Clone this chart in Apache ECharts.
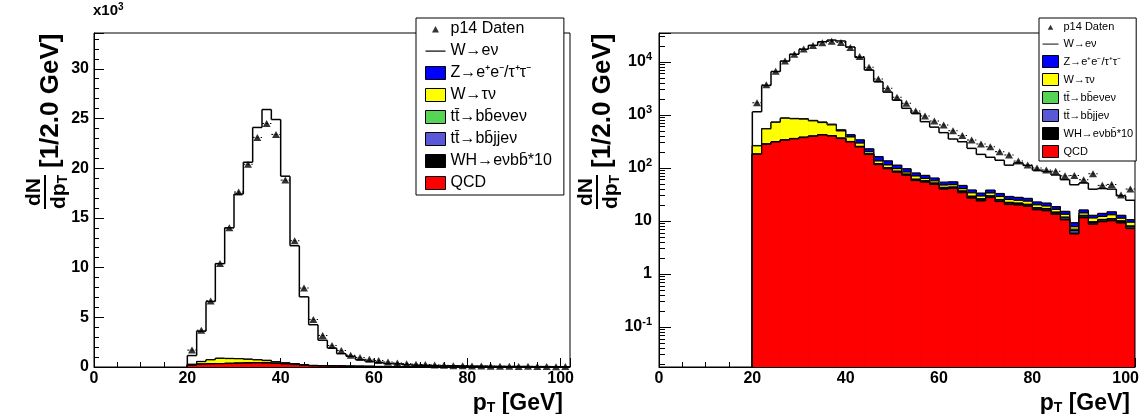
<!DOCTYPE html>
<html>
<head>
<meta charset="utf-8">
<script src="https://cdn.jsdelivr.net/npm/echarts@6/dist/echarts.min.js"></script>
<style>html,body{margin:0;padding:0;background:#fff}#c{width:1144px;height:414px}</style>
</head>
<body>
<div id="c"></div>
<script>
// ---------------- data (bins of 2 GeV, 20..102 GeV) ----------------
const binCenters = [21,23,25,27,29,31,33,35,37,39,41,43,45,47,49,51,53,55,57,59,61,63,65,67,69,71,73,75,77,79,81,83,85,87,89,91,93,95,97,99,101];
const BIN_HALF = 1;
const xTicks = [0,20,40,60,80,100];

const dataP14 = [1700,3700,6650,10400,14000,17600,20400,23100,24500,23400,18800,12700,7940,4780,3180,2160,1660,1190,960,770,650,505,408,337,284,252,203,176,135,114,100,92,87,71,72,60,78,47,49,31,40];
const wenu    = [885,3050,5860,9520,13140,16550,19810,23360,25230,24370,18770,11860,6830,4090,2560,1790,1240,1000,675,525,410,297,266,196,147,121,107,84,97,85,68,64,55,45,39,36,27,27,25,17,14];
const zll     = [3,5,7,9,10,12,14,17,20,25,40,45,27,28,22,16,13,10,9,7.5,6.5,6.5,6,4.5,4,4.5,4,3.5,3.3,3,2.7,2.6,2.1,1.8,1.5,2,1.4,1.7,1.8,1.5,1.1];
const wtaunu  = [79,265,415,530,490,455,375,295,245,135,70,40,18,15,13,10,7,9,6,5,4.5,4.5,3.8,4.5,3.3,3.8,3.6,3,2.7,3,2.3,2,1.8,1.5,0.8,1.4,1.7,1.5,2,1.2,1.4];
const ttll    = [0.6,0.9,1.1,1.3,1.4,1.5,1.5,1.6,1.6,1.5,1.5,1.4,1.4,1.3,1.2,1.2,1.1,1.0,1.0,0.9,0.9,0.8,0.8,0.7,0.7,0.7,0.6,0.6,0.6,0.5,0.5,0.5,0.4,0.4,0.4,0.4,0.3,0.3,0.3,0.3,0.3];
const ttlj    = [1.2,1.8,2.3,2.7,3.0,3.2,3.4,3.5,3.5,3.4,3.3,3.1,3.0,2.8,2.6,2.5,2.3,2.2,2.0,1.9,1.8,1.7,1.6,1.5,1.4,1.3,1.2,1.1,1.1,1.0,0.9,0.9,0.8,0.8,0.7,0.7,0.6,0.6,0.6,0.5,0.5];
const whx10   = [0.3,0.5,0.6,0.7,0.8,0.8,0.9,0.9,0.9,0.9,0.8,0.8,0.7,0.7,0.6,0.6,0.5,0.5,0.5,0.4,0.4,0.4,0.4,0.3,0.3,0.3,0.3,0.3,0.2,0.2,0.2,0.2,0.2,0.2,0.2,0.2,0.1,0.1,0.1,0.1,0.1];
const qcd     = [181,280,310,335,355,375,395,420,400,360,310,250,180,116,97,83,73,58,54,49,40,41,34.2,27,23.9,27.7,23.3,20.5,20,19,16.3,15.6,13.4,10.5,5.7,11.5,8.7,9.7,10.1,9.2,7.2];

const NAME_DATA = 'p14 Daten';
const NAME_WENU = 'W→eν';
const NAME_Z    = 'Z→e\u207Ae\u207B/τ\u207Aτ\u207B';
const NAME_WTAU = 'W→τν';
const NAME_TTLL = 'tt\u0304→bb\u0304eνeν';
const NAME_TTLJ = 'tt\u0304→bb\u0304jjeν';
const NAME_WH   = 'WH→eνbb\u0304*10';
const NAME_QCD  = 'QCD';

const legendOrder = [NAME_DATA, NAME_WENU, NAME_Z, NAME_WTAU, NAME_TTLL, NAME_TTLJ, NAME_WH, NAME_QCD];
const fillColors = {};
fillColors[NAME_Z] = '#0000ff';
fillColors[NAME_WTAU] = '#ffff00';
fillColors[NAME_TTLL] = '#55d455';
fillColors[NAME_TTLJ] = '#5858d8';
fillColors[NAME_WH] = '#000000';
fillColors[NAME_QCD] = '#ff0000';

// stack order, bottom -> top
const stackLayers = [
  { name: NAME_QCD, values: qcd }, { name: NAME_WH, values: whx10 },
  { name: NAME_TTLJ, values: ttlj }, { name: NAME_TTLL, values: ttll },
  { name: NAME_WTAU, values: wtaunu }, { name: NAME_Z, values: zll },
  { name: NAME_WENU, values: wenu }
];

// axis ranges
const Y_LIN_MAX = 33600;
const Y_LOG_MIN = 0.0176, Y_LOG_MAX = 35200;

// ---------------- helpers ----------------
const FONT = '"Liberation Sans", Arial, Helvetica, sans-serif';

// cumulative height of the stack up to (and including) layer k in bin i
function stackTop(k, i) {
  let s = 0;
  for (let j = 0; j <= k; j++) s += stackLayers[j].values[i];
  return s;
}

function layerRenderer(k, yMin) {
  const color = fillColors[stackLayers[k].name] || null;
  const nBins = binCenters.length;
  const lw = k === stackLayers.length - 1 ? 1.5 : 1.2;
  return function (params, api) {
    const i = params.dataIndex;
    const xl = binCenters[i] - BIN_HALF, xr = binCenters[i] + BIN_HALF;
    const top = stackTop(k, i);
    const pl = api.coord([xl, top]);
    const pr = api.coord([xr, top]);
    const bottom = api.coord([xl, yMin])[1];
    const prevY = i > 0 ? api.coord([xl, stackTop(k, i - 1)])[1] : bottom;
    const children = [];
    if (color) {
      children.push({ type: 'rect',
        shape: { x: pl[0], y: pl[1], width: pr[0] - pl[0] + 0.6, height: bottom - pl[1] },
        style: { fill: color } });
    }
    const ls = { stroke: '#000', lineWidth: lw };
    children.push({ type: 'line', shape: { x1: pl[0], y1: pl[1], x2: pr[0], y2: pr[1] }, style: ls });
    children.push({ type: 'line', shape: { x1: pl[0], y1: prevY, x2: pl[0], y2: pl[1] }, style: ls });
    if (i === nBins - 1) {
      children.push({ type: 'line', shape: { x1: pr[0], y1: pr[1], x2: pr[0], y2: bottom }, style: ls });
    }
    return { type: 'group', children: children };
  };
}

const series = [];
[0, 1].forEach(function (p) {
  const yMin = p === 0 ? 0 : Y_LOG_MIN;
  // draw like ROOT's THStack: full cumulative histograms, top layer first
  for (let k = stackLayers.length - 1; k >= 0; k--) {
    series.push({
      type: 'custom', name: stackLayers[k].name, xAxisIndex: p, yAxisIndex: p,
      silent: true, z: 2, clip: true,
      data: binCenters.map(function (c, i) { return [c, stackLayers[k].values[i]]; }),
      renderItem: layerRenderer(k, yMin)
    });
  }
  const pts = binCenters.map(function (c, i) { return [c, dataP14[i]]; });
  series.push({
    type: 'custom', name: 'errx' + p, xAxisIndex: p, yAxisIndex: p, silent: true, z: 4,
    data: pts,
    renderItem: function (params, api) {
      const c = api.value(0), v = api.value(1);
      const a = api.coord([c - BIN_HALF, v]);
      const b = api.coord([c + BIN_HALF, v]);
      return { type: 'line', shape: { x1: a[0], y1: a[1], x2: b[0], y2: b[1] },
               style: { stroke: '#000', lineWidth: 1, lineDash: [2, 2] } };
    }
  });
  series.push({
    type: 'scatter', name: NAME_DATA, xAxisIndex: p, yAxisIndex: p,
    symbol: 'triangle', symbolSize: [8, 7], itemStyle: { color: '#000' },
    data: pts, silent: true, z: 5
  });
});

function makeLegend(left, top, fontSize, iw, ih, gap, padding) {
  return {
    left: left, top: top, orient: 'vertical', selectedMode: false,
    itemWidth: iw, itemHeight: ih, itemGap: gap, padding: padding,
    backgroundColor: '#fff', borderColor: '#000', borderWidth: 1, z: 10,
    textStyle: { color: '#000', fontFamily: FONT, fontSize: fontSize, lineHeight: ih },
    data: legendOrder.map(function (n) {
      if (n === NAME_DATA) return { name: n, icon: 'path://M0,0M20,13M6.5,10L13.5,10L10,3.6Z', itemStyle: { color: '#000', borderWidth: 0 } };
      if (n === NAME_WENU) return { name: n, icon: 'path://M0,0M20,13M0,6L20,6L20,7.2L0,7.2Z', itemStyle: { color: '#000', borderWidth: 0 } };
      return { name: n, icon: 'rect', itemStyle: { color: fillColors[n], borderColor: '#000', borderWidth: 1 } };
    })
  };
}

function xAxisCfg(p) {
  return {
    type: 'value', gridIndex: p, min: 0, max: 102, interval: 20,
    axisLine: { show: true, onZero: false, lineStyle: { color: '#000', width: 1 } },
    axisTick: { show: true, inside: true, length: 9, lineStyle: { color: '#000' } },
    minorTick: { show: true, splitNumber: 4, length: 5, lineStyle: { color: '#000' } },
    splitLine: { show: false }, minorSplitLine: { show: false },
    axisLabel: {
      color: '#000', fontFamily: FONT, fontWeight: 'bold', fontSize: 16, margin: 4,
      formatter: function (v) { return xTicks.indexOf(v) >= 0 ? String(v) : ''; }
    }
  };
}

const SUB = { font: 'bold 14px ' + FONT, fill: '#000', lineHeight: 14, verticalAlign: 'bottom', padding: [9, 0, 0, 0] };

function yTitle(cx, cy) {
  return {
    type: 'group', x: cx, y: cy, rotation: Math.PI / 2, silent: true,
    children: [
      { type: 'text', x: 0, y: -11, style: { text: 'dN', font: 'bold 21px ' + FONT, fill: '#000', align: 'center', verticalAlign: 'middle' } },
      { type: 'line', shape: { x1: -17, y1: 0, x2: 17, y2: 0 }, style: { stroke: '#000', lineWidth: 2 } },
      { type: 'text', x: 0, y: 13, style: { text: '{a|dp}{b|T}', align: 'center', verticalAlign: 'middle',
          rich: { a: { font: 'bold 21px ' + FONT, fill: '#000', lineHeight: 24, verticalAlign: 'bottom' }, b: SUB } } },
      { type: 'text', x: 24, y: 6, style: { text: '[1/2.0 GeV]', font: 'bold 26px ' + FONT, fill: '#000', align: 'left', verticalAlign: 'middle' } }
    ]
  };
}

function xTitle(rightX, y) {
  return {
    type: 'text', x: rightX, y: y, silent: true,
    style: { text: '{a|p}{b|T}{a| [GeV]}', align: 'right', verticalAlign: 'middle',
      rich: { a: { font: 'bold 23px ' + FONT, fill: '#000', lineHeight: 26, verticalAlign: 'bottom' }, b: SUB } }
  };
}

const option = {
  animation: false,
  backgroundColor: '#fff',
  grid: [
    { left: 94, top: 33, width: 476, height: 334, show: true, borderColor: '#000', borderWidth: 1, backgroundColor: 'transparent', outerBoundsMode: 'none' },
    { left: 659, top: 33, width: 476, height: 334, show: true, borderColor: '#000', borderWidth: 1, backgroundColor: 'transparent', outerBoundsMode: 'none' }
  ],
  xAxis: [xAxisCfg(0), xAxisCfg(1)],
  yAxis: [
    {
      type: 'value', gridIndex: 0, min: 0, max: Y_LIN_MAX, interval: 5000,
      axisLine: { show: true, lineStyle: { color: '#000', width: 1 } },
      axisTick: { show: true, inside: true, length: 10, lineStyle: { color: '#000' } },
      minorTick: { show: true, splitNumber: 5, length: 5, lineStyle: { color: '#000' } },
      splitLine: { show: false }, minorSplitLine: { show: false },
      axisLabel: {
        color: '#000', fontFamily: FONT, fontWeight: 'bold', fontSize: 16, margin: 5,
        formatter: function (v) { return v % 5000 === 0 ? String(v / 1000) : ''; }
      }
    },
    {
      type: 'log', logBase: 10, gridIndex: 1, min: Y_LOG_MIN, max: Y_LOG_MAX,
      axisLine: { show: true, lineStyle: { color: '#000', width: 1 } },
      axisTick: { show: true, inside: true, length: 12, lineStyle: { color: '#000' } },
      minorTick: { show: true, splitNumber: 9, length: 6, lineStyle: { color: '#000' } },
      splitLine: { show: false }, minorSplitLine: { show: false },
      axisLabel: {
        color: '#000', margin: 7,
        formatter: function (v) {
          const e = Math.log10(v), r = Math.round(e);
          if (Math.abs(e - r) > 1e-6) return '';
          if (r === 0) return '{n|1}';
          if (r === 1) return '{n|10}';
          return '{n|10}{s|' + r + '}';
        },
        rich: {
          n: { fontFamily: FONT, fontWeight: 'bold', fontSize: 16, color: '#000', lineHeight: 22 },
          s: { fontFamily: FONT, fontWeight: 'bold', fontSize: 11, color: '#000', lineHeight: 11, verticalAlign: 'top' }
        }
      }
    }
  ],
  legend: [
    makeLegend(416, 18, 16, 20, 13, 6, [3, 12, 4, 9]),
    makeLegend(1039, 18, 11, 16, 12, 5, [3, 3, 3, 3])
  ],
  graphic: [
    { type: 'text', x: 93, y: 11, silent: true,
      style: { text: '{a|x10}{s|3}', align: 'left', verticalAlign: 'middle',
        rich: { a: { font: 'bold 15px ' + FONT, fill: '#000', lineHeight: 18 },
                s: { font: 'bold 10px ' + FONT, fill: '#000', lineHeight: 10, verticalAlign: 'top' } } } },
    yTitle(45, 192),
    yTitle(597, 192),
    xTitle(563, 402),
    xTitle(1130, 402)
  ],
  series: series
};

const chart = echarts.init(document.getElementById('c'), null, { renderer: 'canvas' });
chart.setOption(option);
</script>
</body>
</html>
